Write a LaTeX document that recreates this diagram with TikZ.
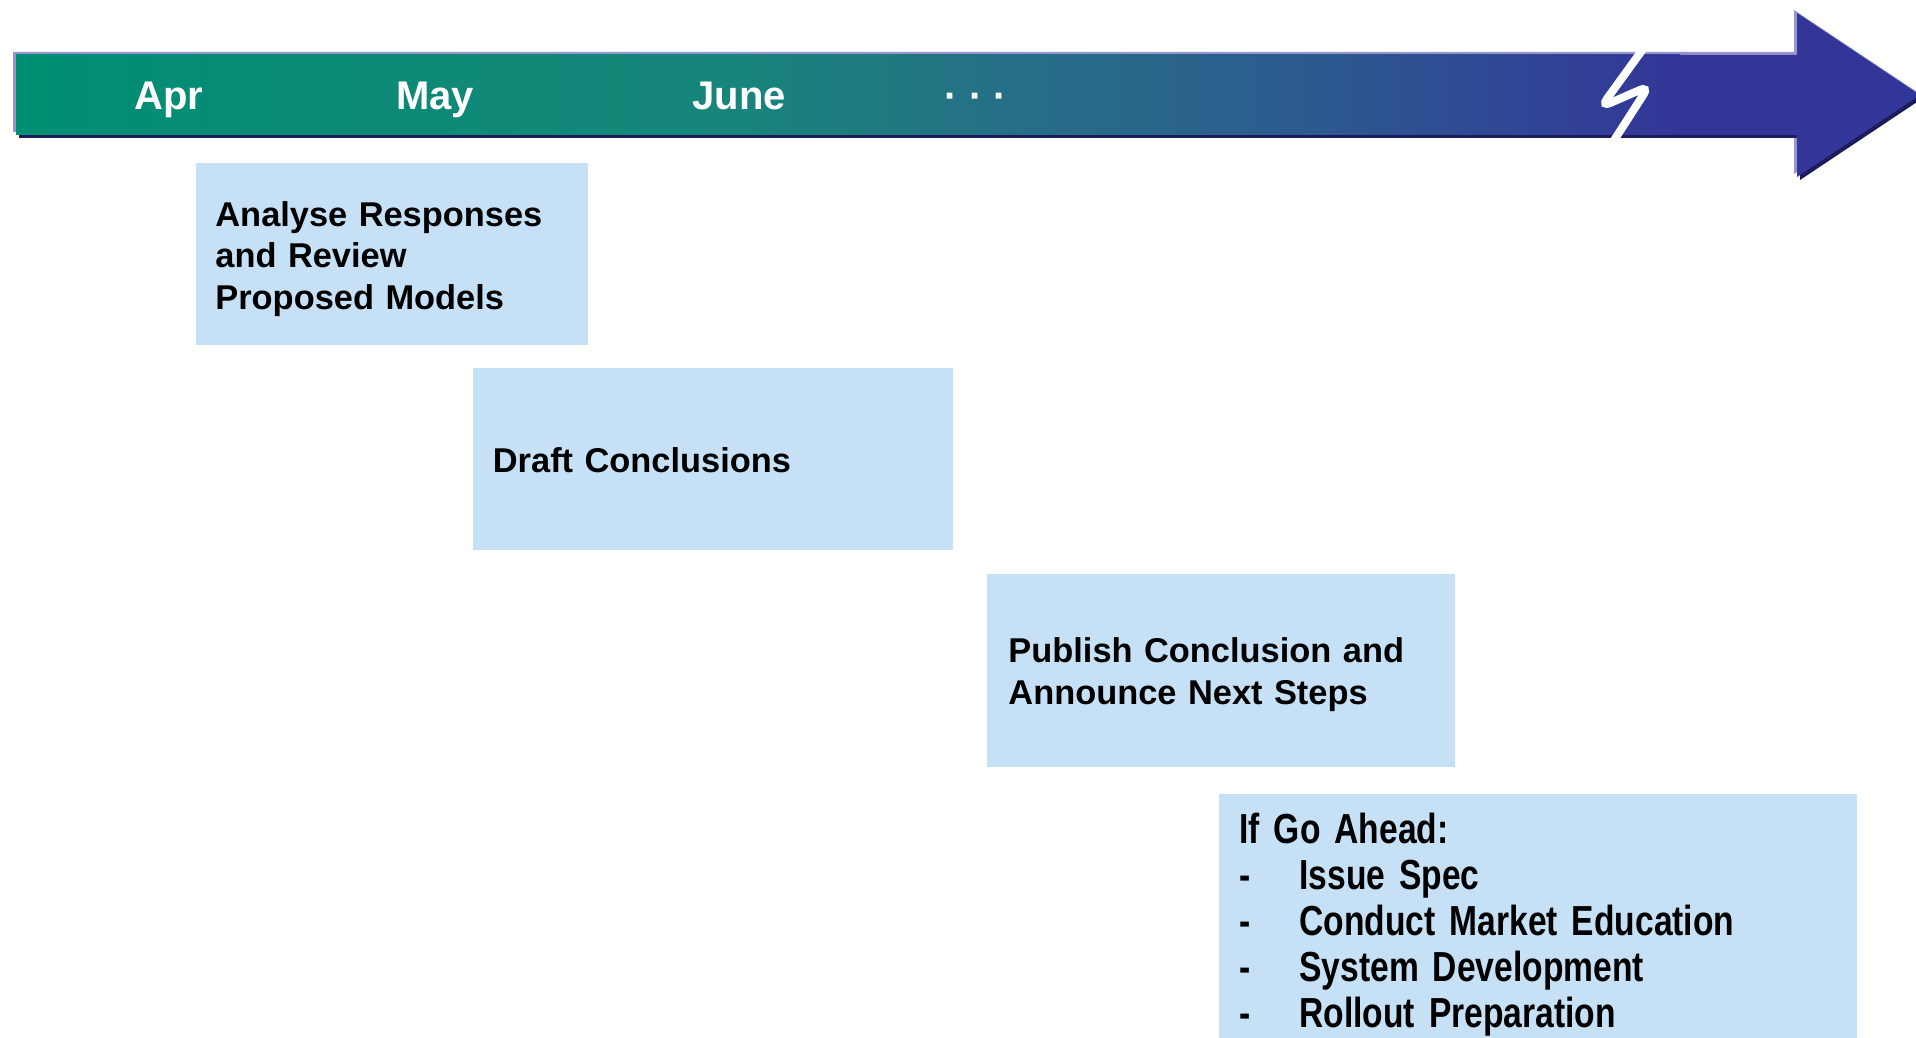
\documentclass[tikz,border=0pt]{standalone}
\usepackage{fontspec}
\setmainfont{Liberation Sans}
\newfontface\narrowfont[FakeStretch=0.80]{Liberation Sans Bold}
\usepackage{tikz}
\usetikzlibrary{positioning,calc}
\definecolor{arrowteal}{RGB}{0,143,116}
\definecolor{arrowmid}{RGB}{24,133,122}
\definecolor{arrowsea}{RGB}{37,112,134}
\definecolor{arrowdusk}{RGB}{44,91,143}
\definecolor{arrowblue}{RGB}{51,54,153}
\definecolor{arrowlight}{RGB}{150,150,205}
\definecolor{arrowdark}{RGB}{28,28,90}
\definecolor{boxblue}{RGB}{198,225,246}
\pgfdeclarehorizontalshading{timeline}{100bp}{color(0bp)=(arrowteal); color(25bp)=(arrowteal);
  color(46.7bp)=(arrowmid); color(54.5bp)=(arrowsea); color(63.6bp)=(arrowdusk);
  color(75bp)=(arrowblue); color(100bp)=(arrowblue)}
\tikzset{%
  month/.style = {%
    anchor=base,
    text=white,
    font=\fontsize{20pt}{24pt}\selectfont\bfseries},
  taskbox/.style = {%
    rectangle,
    anchor=north west,
    fill=boxblue,
    align=left,
    inner xsep=9.75pt,
    inner ysep=0pt,
    font=\fontsize{17.2pt}{20.8pt}\selectfont\bfseries}}
\newcommand{\arrowshape}{(16,55) -- (1797,55) -- (1797,13) -- (1920,95) -- (1797,177) -- (1797,135) -- (16,135) -- cycle}

\begin{document}
\begin{tikzpicture}[x=0.5pt, y=-0.5pt]
\useasboundingbox (0,0) rectangle (1916,1038);

% timeline arrow
\fill[arrowlight, shift={(-3,-3)}] \arrowshape;
\fill[arrowdark, shift={(3,3)}] \arrowshape;
\fill[arrowblue] \arrowshape;
\shade[shading=timeline] (16,55) rectangle (1680,135);
\draw[white, line width=4pt, rounded corners=5pt] (1643,49) -- (1601,107) -- (1649,86) -- (1613,142);

\node[month] (apr)  at (169,110) {Apr};
\node[month] (may)  at (435,110) {May};
\node[month] (june) at (739,110) {June};
\node[month] (more) at (976,110) {· · ·};

% tasks
\node[taskbox,
      minimum width=196.25pt,
      minimum height=91pt,
      text width=176.75pt] (analyse) at (195.5,162.5)
      {\rule{0pt}{17.5pt}Analyse Responses\\and Review\\Proposed Models};

\node[taskbox,
      minimum width=240pt,
      minimum height=91pt,
      text width=220.5pt] (draft) at (473,368)
      {\rule{0pt}{13.5pt}Draft Conclusions};

\node[taskbox,
      inner xsep=10.5pt,
      minimum width=234pt,
      minimum height=96.5pt,
      text width=213pt] (publish) at (987,574)
      {\rule{0pt}{16pt}Publish Conclusion and\\Announce Next Steps};

\node[taskbox,
      inner xsep=10pt,
      minimum width=319pt,
      minimum height=130.3pt,
      text width=299pt,
      font=\fontsize{21pt}{22.9pt}\narrowfont] (goahead) at (1219,794)
      {If Go Ahead:\\
       \makebox[30pt][l]{-}Issue Spec\\
       \makebox[30pt][l]{-}Conduct Market Education\\
       \makebox[30pt][l]{-}System Development\\
       \makebox[30pt][l]{-}Rollout Preparation};

\end{tikzpicture}
\end{document}
